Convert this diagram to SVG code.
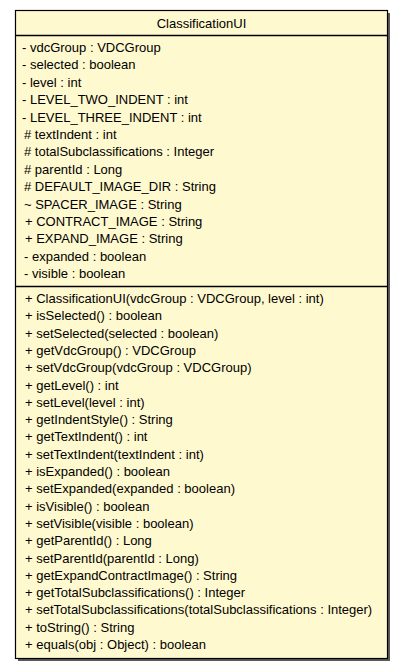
<svg xmlns="http://www.w3.org/2000/svg" width="403" height="669" viewBox="0 0 403 669">
<style>
.box{fill:#fff9cf;stroke:#000;stroke-width:1.2}
.shadow{fill:#5a5a5a}
.sep{stroke:#000;stroke-width:1.5}
text{font-family:"Liberation Sans",Arial,sans-serif;font-size:13px;fill:#000}
.title{text-anchor:middle}
</style>
<rect width="403" height="669" fill="#fff"/>
<g id="ClassificationUI">
<rect class="shadow" x="18" y="13" width="372" height="648"/>
<rect class="box" x="15.5" y="10.5" width="372" height="648"/>
<line class="sep" x1="15.5" y1="35.5" x2="387.5" y2="35.5"/>
<line class="sep" x1="15.5" y1="286.5" x2="387.5" y2="286.5"/>
<text class="title" x="201.5" y="28">ClassificationUI</text>
<g id="attributes">
<text x="22" y="52">- vdcGroup : VDCGroup</text>
<text x="22" y="69.4">- selected : boolean</text>
<text x="22" y="86.8">- level : int</text>
<text x="22" y="104.2">- LEVEL_TWO_INDENT : int</text>
<text x="22" y="121.6">- LEVEL_THREE_INDENT : int</text>
<text x="24" y="139"># textIndent : int</text>
<text x="24" y="156.4"># totalSubclassifications : Integer</text>
<text x="24" y="173.8"># parentId : Long</text>
<text x="24" y="191.2"># DEFAULT_IMAGE_DIR : String</text>
<text x="24" y="208.6">~ SPACER_IMAGE : String</text>
<text x="25" y="226">+ CONTRACT_IMAGE : String</text>
<text x="25" y="243.4">+ EXPAND_IMAGE : String</text>
<text x="24" y="260.8">- expanded : boolean</text>
<text x="24" y="278.2">- visible : boolean</text>
</g>
<g id="operations">
<text x="25" y="303">+ ClassificationUI(vdcGroup : VDCGroup, level : int)</text>
<text x="25" y="320.3">+ isSelected() : boolean</text>
<text x="25" y="337.6">+ setSelected(selected : boolean)</text>
<text x="25" y="354.9">+ getVdcGroup() : VDCGroup</text>
<text x="25" y="372.2">+ setVdcGroup(vdcGroup : VDCGroup)</text>
<text x="25" y="389.5">+ getLevel() : int</text>
<text x="25" y="406.8">+ setLevel(level : int)</text>
<text x="25" y="424.1">+ getIndentStyle() : String</text>
<text x="25" y="441.4">+ getTextIndent() : int</text>
<text x="25" y="458.7">+ setTextIndent(textIndent : int)</text>
<text x="25" y="476">+ isExpanded() : boolean</text>
<text x="25" y="493.3">+ setExpanded(expanded : boolean)</text>
<text x="25" y="510.6">+ isVisible() : boolean</text>
<text x="25" y="527.9">+ setVisible(visible : boolean)</text>
<text x="25" y="545.2">+ getParentId() : Long</text>
<text x="25" y="562.5">+ setParentId(parentId : Long)</text>
<text x="25" y="579.8">+ getExpandContractImage() : String</text>
<text x="25" y="597.1">+ getTotalSubclassifications() : Integer</text>
<text x="25" y="614.4">+ setTotalSubclassifications(totalSubclassifications : Integer)</text>
<text x="25" y="631.7">+ toString() : String</text>
<text x="25" y="649">+ equals(obj : Object) : boolean</text>
</g>
</g>
<g id="connectors"/>
</svg>
